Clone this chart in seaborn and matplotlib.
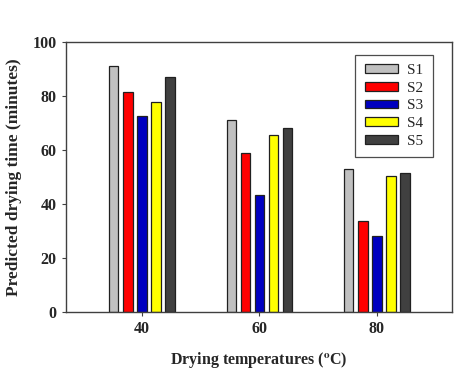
import seaborn as sns
import pandas as pd
from matplotlib import pyplot as plt

## data
temps = ["40", "60", "80"]
samples = ["S1", "S2", "S3", "S4", "S5"]
s1 = [91.0, 71.0, 53.0]
s2 = [81.5, 58.8, 33.7]
s3 = [72.6, 43.4, 28.1]
s4 = [77.9, 65.5, 50.3]
s5 = [87.0, 68.2, 51.5]
colors = ["#C0C0C0", "#FF0000", "#0000C0", "#FFFF00", "#404040"]

sns.set_style('white')
plt.rcParams['font.family'] = ['Liberation Serif', 'DejaVu Serif']
plt.rcParams['mathtext.fontset'] = 'stix'

rows = []
for name, vals in zip(samples, [s1, s2, s3, s4, s5]):
    for t, v in zip(temps, vals):
        rows.append({"temp": t, "sample": name, "time": v})
df = pd.DataFrame(rows)

fig, ax = plt.subplots(figsize=(4.74, 3.69), dpi=100)
fig.subplots_adjust(left=0.139, right=0.954, top=0.886, bottom=0.154)

sns.barplot(data=df, x="temp", y="time", hue="sample", order=temps,
            hue_order=samples, palette=colors, saturation=1, width=0.6,
            gap=0.33, edgecolor="#202020", linewidth=0.9, ax=ax)

ax.set_xlim(-0.647, 2.64)
ax.set_ylim(0, 100)
ax.set_yticks([0, 20, 40, 60, 80, 100])
for s in ax.spines.values():
    s.set_color("#404040")
    s.set_linewidth(1.0)
ax.tick_params(axis='both', direction='out', length=3, width=0.8,
               color="#404040", left=True, bottom=True, labelsize=11.5)
for lab in ax.get_xticklabels() + ax.get_yticklabels():
    lab.set_fontweight('bold')

ax.set_ylabel("Predicted drying time (minutes)", fontsize=12.5,
              fontweight='bold', labelpad=8)
ax.set_xlabel(r"Drying temperatures ($^{\mathbf{o}}$C)", fontsize=11.5,
              fontweight='bold', labelpad=9)

ax.legend(loc='upper right', bbox_to_anchor=(0.969, 0.98), frameon=True,
          fancybox=False, edgecolor="#202020", fontsize=11, handlelength=2.2,
          handleheight=0.5, labelspacing=0.3, borderpad=0.6,
          handletextpad=0.6)
ax.get_legend().get_frame().set_linewidth(0.9)

plt.savefig("out.png", dpi=100)
